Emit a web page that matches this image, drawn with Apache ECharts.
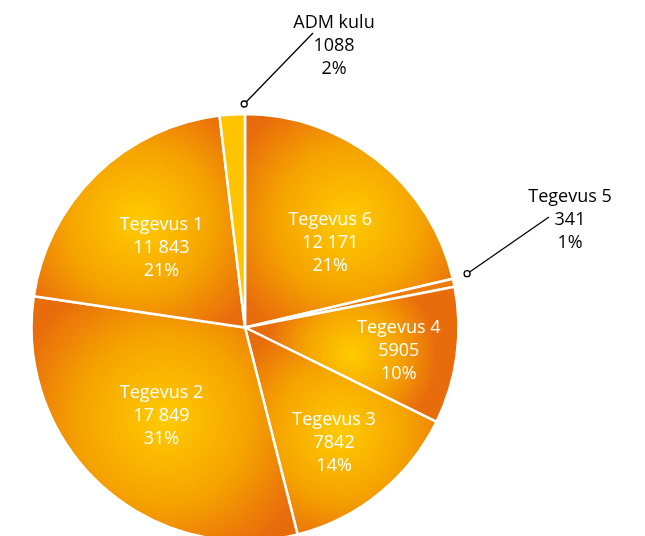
<!DOCTYPE html>
<html>
<head>
<meta charset="utf-8">
<script src="https://cdn.jsdelivr.net/npm/echarts@6/dist/echarts.min.js"></script>
<style>
  html, body { margin: 0; padding: 0; background: #fff; }
  #grafico { width: 645px; height: 536px; }
</style>
</head>
<body>
<div id="grafico"></div>
<script>
// andmed (kellaosuti suunas alates ülevalt)
var nimed = ['Tegevus 6', 'Tegevus 5', 'Tegevus 4', 'Tegevus 3', 'Tegevus 2', 'Tegevus 1', 'ADM kulu'];
var vaartused = [12171, 341, 5905, 7842, 17849, 11843, 1088];
var valjas = ['Tegevus 5', 'ADM kulu']; // sildid väljaspool

var KESK = [245, 327.5];
var RAADIUS = 213.5;

function vorming(v) {
    var s = String(v);
    if (v >= 10000) s = s.slice(0, s.length - 3) + ' ' + s.slice(-3);
    return s;
}

function gradient() {
    return {
        type: 'radial', x: 0.5, y: 0.5, r: 0.62,
        colorStops: [
            { offset: 0, color: '#ffcb00' },
            { offset: 0.55, color: '#f5a300' },
            { offset: 1, color: '#e96c0c' }
        ]
    };
}

var andmed = [];
nimed.forEach(function (n, i) {
    var item = { name: n, value: vaartused[i], itemStyle: { color: gradient() } };
    if (n == 'ADM kulu') item.itemStyle.color = '#ffc300';
    if (n == 'Tegevus 5') item.itemStyle.color = '#ee7a0a';
    if (valjas.indexOf(n) >= 0) {
        item.label = { position: 'outside', color: '#000' };
        item.labelLine = { show: true, lineStyle: { color: '#000', width: 1.3 } };
    }
    andmed.push(item);
});

// väikeste viilude joone alguspunktid (ring) - viilu servas
var summa = vaartused.reduce(function (a, b) { return a + b; }, 0);
var algused = {};
var kum = 0;
vaartused.forEach(function (v, i) {
    var n = nimed[i];
    var osa = n == 'ADM kulu' ? kum + v * 0.97 : kum - v * 0.2;
    var nurk = (90 - 360 * osa / summa) * Math.PI / 180;
    kum += v;
    if (valjas.indexOf(n) >= 0) {
        var rr = RAADIUS + (n == 'ADM kulu' ? 10 : 15);
        algused[n] = [KESK[0] + rr * Math.cos(nurk), KESK[1] - rr * Math.sin(nurk)];
    }
});

var siltKoht = {
    'ADM kulu': { x: 334, y: 46, lopp: [313, 33] },
    'Tegevus 5': { x: 570, y: 220, lopp: [549, 217] }
};
var nihe = {
    'Tegevus 6': [17, 1], 'Tegevus 1': [-7, -1], 'Tegevus 2': [-10, 7],
    'Tegevus 4': [45, 9], 'Tegevus 3': [20, 30]
};

var myChart = echarts.init(document.getElementById('grafico'));

var graafika = [];
Object.keys(algused).forEach(function (k) {
    graafika.push({
        type: 'circle',
        shape: { cx: algused[k][0], cy: algused[k][1], r: 3 },
        style: { fill: '#fff', stroke: '#000', lineWidth: 1.3 },
        z: 100
    });
});

var option = {
    animation: false,
    graphic: graafika,
    series: [{
        type: 'pie',
        center: KESK,
        radius: RAADIUS,
        startAngle: 90,
        clockwise: true,
        data: andmed,
        itemStyle: { borderColor: '#fff', borderWidth: 2.5 },
        label: {
            show: true,
            position: 'inside',
            color: '#fff',
            fontFamily: 'Open Sans',
            fontSize: 18,
            lineHeight: 23,
            align: 'center',
            formatter: function (p) {
                return p.name + '\n' + vorming(p.value) + '\n' + Math.round(p.percent) + '%';
            }
        },
        labelLayout: function (p) {
            var n = nimed[p.dataIndex];
            if (siltKoht[n]) {
                var a = algused[n];
                var s = siltKoht[n];
                return {
                    x: s.x, y: s.y, align: 'center', verticalAlign: 'middle',
                    labelLinePoints: [a, a, s.lopp]
                };
            }
            if (nihe[n]) return { dx: nihe[n][0], dy: nihe[n][1] };
        }
    }]
};

myChart.setOption(option);
</script>
</body>
</html>
